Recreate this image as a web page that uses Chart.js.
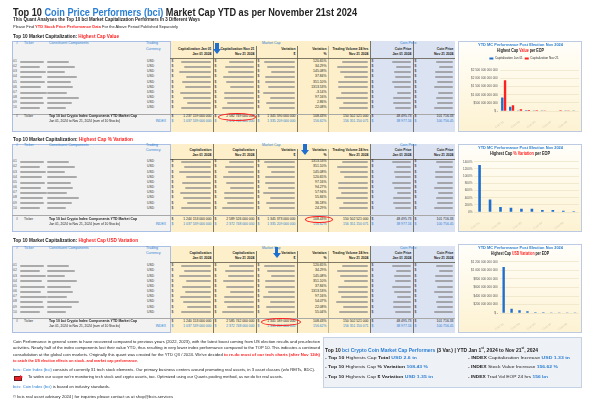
<!DOCTYPE html>
<html>
<head>
<meta charset="utf-8">
<script src="https://cdn.jsdelivr.net/npm/chart.js@4"></script>
<style>
    body { margin: 0; background: #fff; }
    #page { position: relative; width: 600px; height: 405px; overflow: hidden; font-family: "Liberation Sans", Arial, sans-serif; color: #222; }
    .a { position: absolute; white-space: nowrap; transform-origin: 0 0; }
    .blue { color: #2b7fd4; }
    .red { color: #ff1f1f; }
    .b { font-weight: bold; }
</style>
</head>
<body>
<div id="page"></div>
<script>
// ---- data (coin names are blurred in the original) ----
const coins = ['Coin 01', 'Coin 02', 'Coin 03', 'Coin 04', 'Coin 05', 'Coin 06', 'Coin 07', 'Coin 08', 'Coin 09', 'Coin 10'];
const capJan = [830, 270, 44, 48, 12, 3, 15, 24, 12, 13];        // USD bn, Jan 01 2024
const capNov = [1880, 355, 108, 66, 54, 42, 15, 47, 12, 16];     // USD bn, Nov 21 2024
const capPctVar = [1313.53, 351.10, 145.08, 120.65, 97.16, 94.27, 57.94, 55.84, 36.18, 24.29]; // %
const capUsdVar = [1080, 100, 65, 42, 22, 22, 4, 3, 2, 1];     // USD bn

const capTicks = [0, 500, 1000, 1500, 2000, 2500];
const pctTicks = [0, 200, 400, 600, 800, 1000, 1200, 1400];
const usdTicks = [0, 200, 400, 600, 800, 1000, 1200];

const pctS1 = ['120.65%', '34.29%', '145.08%', '37.84%', '351.10%', '1313.53%', '-3.14%', '97.16%', '2.86%', '22.08%'];
const pctS2 = ['1313.53%', '351.10%', '145.08%', '120.65%', '97.16%', '94.27%', '57.94%', '55.84%', '36.18%', '24.29%'];
const pctS3 = ['120.65%', '34.29%', '145.08%', '351.10%', '37.84%', '1313.53%', '97.16%', '54.07%', '22.08%', '55.04%'];

const totS1 = ['1 237 159 000 000', '2 582 749 000 000', '1 345 590 000 000', '108.43%', '150 502 521 000', '48 495.73', '101 716.33'];
const idxS1 = ['1 037 539 000 000', '2 372 748 000 000', '1 335 209 000 000', '156.62%', '156 351 150 071', '38 977.16', '100 756.45'];
const totS2 = ['1 244 153 000 000', '2 589 526 000 000', '1 345 373 000 000', '108.43%', '150 502 521 000', '48 495.73', '101 716.33'];
const totS3 = ['1 240 153 000 000', '2 585 742 000 000', '1 345 589 000 000', '108.43%', '150 502 521 000', '48 495.73', '101 716.33'];

const page = document.getElementById('page');

function txt(x, yc, html, o = {}) {
    const size = o.size || 3.6;
    const d = document.createElement('div');
    d.className = 'a';
    d.style.fontSize = size + 'px';
    d.style.lineHeight = size + 'px';
    d.style.top = (yc - size / 2) + 'px';
    if (o.bold) d.style.fontWeight = 'bold';
    if (o.color) d.style.color = o.color;
    d.innerHTML = html;
    page.appendChild(d);
    let w = d.getBoundingClientRect().width;
    if (o.w) { d.style.transform = 'scaleX(' + (o.w / w) + ')'; w = o.w; }
    const al = o.align || 'left';
    d.style.left = (al === 'left' ? x : al === 'right' ? x - w : x - w / 2) + 'px';
    return d;
}

function rect(x, y, w, h, css) {
    const d = document.createElement('div');
    d.className = 'a';
    d.style.cssText += `left:${x}px;top:${y}px;width:${w}px;height:${h}px;` + (css || '');
    page.appendChild(d);
    return d;
}

function smear(x, yc, w) {
    rect(x, yc - 1, w, 2, 'background:#8c8c8c;filter:blur(0.7px);border-radius:1px;opacity:0.7;');
}

function arrow(xc, y) {
    rect(xc - 1.6, y, 3.2, 6, 'background:#1f6fd0;');
    rect(xc - 4, y + 6, 0, 0, 'border-left:4px solid transparent;border-right:4px solid transparent;border-top:5px solid #1f6fd0;');
}

function ring(x, y, w, h) {
    rect(x, y, w, h, 'border:1px solid #ff1f1f;border-radius:50%;box-sizing:border-box;');
}

// ---- titles ----
txt(13, 12.5, 'Top 10 <span class="blue">Coin Price Performers (bci)</span> Market Cap YTD as per November 21st 2024', { size: 10, bold: true, w: 344 });
txt(13, 20.7, 'This Quant Analyses the Top 10 bci Market Capitalization Performers In 3 Different Ways', { size: 4.5, bold: true, w: 187 });
txt(13, 26.7, 'Please Find <span class="red b">YTD Stock Price Performance Data</span> For the Above Period Published Separately', { size: 4, w: 165 });

// ---- tables ----
const C = { p0: 170, p1: 213, p2: 256, p3: 297, p4: 328, p5: 370, q1: 413, q2: 455 };
const tickW = [24, 20, 26, 22, 25, 21, 27, 23, 24, 20];
const nameW = [22, 28, 18, 30, 24, 26, 20, 32, 25, 19];
const valW = [30, 27, 32, 25, 29, 26, 31, 28, 24, 30];

const sections = [
    { top: 41, bottom: 131.5, headY: 37.7, headW: 106, head: 'Highest Cap Value', g: 43.7, l1: 49.3, l2: 54.3, hl: 58.3, row0: 61.7, sep: 113.5, tot: [117, 122],
      capHdr: ['Capitalization Jan 01', 'Capitalization Nov 21'], pct: pctS1, t1: totS1, t2: idxS1, arrowX: 217, arrowY: 42.5, ring: [218, 113, 38, 8] },
    { top: 143.5, bottom: 231.7, headY: 140, headW: 120, head: 'Highest Cap % Variation', g: 146, l1: 150.7, l2: 156, hl: 159, row0: 162, sep: 215, tot: [219.3, 224.3],
      capHdr: ['Capitalization', 'Capitalization'], pct: pctS2, t1: totS2, t2: idxS1, arrowX: 305, arrowY: 144, ring: [304.5, 215.8, 28, 7.5] },
    { top: 246, bottom: 332.7, headY: 241, headW: 125, head: 'Highest Cap USD Variation', g: 248.5, l1: 253.3, l2: 259, hl: 262, row0: 266, sep: 318, tot: [321.7, 326.7],
      capHdr: ['Capitalization', 'Capitalization'], pct: pctS3, t1: totS3, t2: idxS1, arrowX: 276.5, arrowY: 246.5, ring: [261, 317.7, 40, 8] }
];

sections.forEach(s => {
    const h = s.bottom - s.top;
    txt(13, s.headY, 'Top 10 Market Capitalization: <span class="red">' + s.head + '</span>', { size: 4.8, bold: true, w: s.headW });

    // panels
    rect(12, s.top, 443, h, 'border:1px solid #a9bfe3;box-sizing:border-box;background:#f2f2f2;');
    rect(C.p0, s.top, C.p5 - C.p0, h, 'background:#fcefc9;border-left:1px solid #a9bfe3;');
    rect(C.p5, s.top, C.q2 - C.p5, h, 'background:#dbe2f2;');
    [C.p1, C.p2, C.p3, C.p5, C.q1].forEach(x => {
        const off = (x === C.p2 || x === C.p3) ? 5 : 0;
        rect(x, s.top + off, 0.6, h - off, 'background:#5f5a4a;opacity:0.8;');
    });
    rect(C.p4, s.top + 5, 0.5, h - 5, 'background:#c2b694;');
    rect(C.p0, s.hl, C.q2 - C.p0, 0.6, 'background:#5f5a4a;opacity:0.8;');
    rect(12, s.sep, 443, 0.7, 'background:#a8a8a8;');

    // header labels
    const hb = { color: '#2b7fd4', size: 3.6 };
    txt(16, s.g, '#', hb);
    txt(24, s.g, 'Ticker', hb);
    txt(49, s.g, 'Constituent Components', hb);
    txt(146, s.g, 'Trading', hb);
    txt(146, s.l1, 'Currency', hb);
    txt(262, s.g, 'Market Cap', hb);
    txt(400, s.g, 'Coin Price', hb);
    const hk = { align: 'right', bold: true, size: 3.4 };
    txt(C.p1 - 1.5, s.l1, s.capHdr[0], hk); txt(C.p1 - 1.5, s.l2, 'Jan 01 2024', hk);
    txt(C.p2 - 1.5, s.l1, s.capHdr[1], hk); txt(C.p2 - 1.5, s.l2, 'Nov 21 2024', hk);
    txt(C.p3 - 1.5, s.l1, 'Variation', hk); txt(C.p3 - 1.5, s.l2, '$', hk);
    txt(C.p4 - 1.5, s.l1, 'Variation', hk); txt(C.p4 - 1.5, s.l2, '%', hk);
    txt(C.p5 - 1.5, s.l1, 'Trading Volume 24 hrs', hk); txt(C.p5 - 1.5, s.l2, 'Nov 21 2024', hk);
    txt(C.q1 - 1.5, s.l1, 'Coin Price', hk); txt(C.q1 - 1.5, s.l2, 'Jan 01 2024', hk);
    txt(C.q2 - 1.5, s.l1, 'Coin Price', hk); txt(C.q2 - 1.5, s.l2, 'Nov 21 2024', hk);

    // rows
    s.pct.forEach((p, i) => {
        const y = s.row0 + i * 5.15;
        txt(13, y, String(i + 1).padStart(2, '0'), { size: 3.4, color: '#555' });
        smear(20, y, tickW[i]);
        smear(47, y, nameW[i]);
        txt(147, y, 'USD', { size: 3.4, color: '#333' });
        [[C.p0, C.p1], [C.p1, C.p2], [C.p2, C.p3]].forEach(([a, b], k) => {
            txt(a + 1.5, y, '$', { size: 3.4 });
            const w = valW[(i + k * 3) % 10];
            smear(b - 2 - w, y, w);
        });
        txt(C.p4 - 1.5, y, p, { size: 3.4, align: 'right' });
        smear(C.p5 - 2 - valW[(i + 5) % 10], y, valW[(i + 5) % 10]);
        txt(C.p5 + 1.5, y, '$', { size: 3.4 });
        smear(C.q1 - 2 - valW[(i + 2) % 10] * 0.6, y, valW[(i + 2) % 10] * 0.6);
        txt(C.q1 + 1.5, y, '$', { size: 3.4 });
        smear(C.q2 - 2 - valW[(i + 7) % 10] * 0.6, y, valW[(i + 7) % 10] * 0.6);
    });

    // totals
    const [y1, y2] = s.tot;
    txt(16, y1, '#', { size: 3.4 });
    txt(24, y1, 'Ticker', { size: 3.4 });
    txt(49, y1, 'Top 10 bci Crypto Index Components YTD Market Cap', { size: 3.4, bold: true, w: 88 });
    txt(49, y2, 'Jan 01, 2024 to Nov 21, 2024 (sum of 10 Stocks)', { size: 3.2, w: 71 });
    txt(166, y2, 'INDEX', { size: 3.4, color: '#2b7fd4', align: 'right' });
    [[s.t1, y1, '#222'], [s.t2, y2, '#2b7fd4']].forEach(([vals, y, col]) => {
        const o = { size: 3.4, color: col, align: 'right' };
        txt(C.p0 + 1.5, y, '$', { size: 3.4, color: col });
        txt(C.p1 - 1.5, y, vals[0], o);
        txt(C.p1 + 1.5, y, '$', { size: 3.4, color: col });
        txt(C.p2 - 1.5, y, vals[1], o);
        txt(C.p2 + 1.5, y, '$', { size: 3.4, color: col });
        txt(C.p3 - 1.5, y, vals[2], o);
        txt(C.p4 - 1.5, y, vals[3], o);
        txt(C.p5 - 1.5, y, vals[4], o);
        txt(C.p5 + 1.5, y, '$', { size: 3.4, color: col });
        txt(C.q1 - 1.5, y, vals[5], o);
        txt(C.q1 + 1.5, y, '$', { size: 3.4, color: col });
        txt(C.q2 - 1.5, y, vals[6], o);
    });

    arrow(s.arrowX, s.arrowY);
    ring(...s.ring);
});

// ---- charts ----
function spaced(n) { return String(n).replace(/\B(?=(\d{3})+(?!\d))/g, ' '); }

function chartBox(top, h, sub, subW) {
    rect(458, top, 124, h, 'border:1px solid #bccbe3;box-sizing:border-box;background:linear-gradient(#fffef9,#fdf2d2);');
    txt(520, top + 4.5, 'YTD MC Performance Post Election Nov 2024', { size: 4.4, bold: true, color: '#2b7fd4', w: 85, align: 'center' });
    txt(520, top + 10.5, sub, { size: 4.6, bold: true, w: subW, align: 'center' });
    const cv = document.createElement('canvas');
    cv.width = 122; cv.height = h - 15;
    cv.className = 'a';
    cv.style.left = '459px'; cv.style.top = (top + 14) + 'px';
    page.appendChild(cv);
    return cv;
}

function opts(ticks, fmt, pad) {
    return {
        responsive: false, animation: false,
        layout: { padding: pad },
        plugins: { legend: { display: false }, tooltip: { enabled: false } },
        scales: {
            x: { grid: { display: false }, border: { display: false },
                 ticks: { font: { size: 3 }, color: '#d2c8b2', maxRotation: 35, minRotation: 35, padding: 1 } },
            y: { min: 0, max: ticks[ticks.length - 1], afterBuildTicks: ax => { ax.ticks = ticks.map(v => ({ value: v })); },
                 ticks: { font: { size: 3 }, color: '#555', padding: 2, callback: fmt },
                 grid: { color: '#eadfbf', lineWidth: 0.6, drawTicks: false }, border: { display: false } }
        }
    };
}

const o1 = opts(capTicks, v => v === 0 ? '$ -' : '$' + spaced(v * 1e9), { left: 10, right: 2, top: 0, bottom: 0 });
o1.plugins.legend = { display: true, position: 'top', labels: { font: { size: 3 }, boxWidth: 4, boxHeight: 2, padding: 2, color: '#333' } };
new Chart(chartBox(41, 90.5, 'Highest Cap <span class="red">Value</span> per EOP', 47), {
    type: 'bar',
    data: { labels: coins, datasets: [
        { label: 'Capitalization Jan 01', data: capJan, backgroundColor: '#1f6fd0', categoryPercentage: 0.7, barPercentage: 0.85 },
        { label: 'Capitalization Nov 21', data: capNov, backgroundColor: '#ff1f1f', categoryPercentage: 0.7, barPercentage: 0.85 }
    ] },
    options: o1
});

new Chart(chartBox(143.5, 88.2, 'Highest Cap <span class="red">% Variation</span> per EOP', 60), {
    type: 'bar',
    data: { labels: coins, datasets: [
        { label: 'Cap % Variation', data: capPctVar, backgroundColor: '#1f6fd0', categoryPercentage: 0.5, barPercentage: 0.5 }
    ] },
    options: opts(pctTicks, v => v + '%', { left: 2, right: 2, top: 1, bottom: 0 })
});

new Chart(chartBox(244, 89, 'Highest Cap <span class="red">USD Variation</span> per EOP', 58), {
    type: 'bar',
    data: { labels: coins, datasets: [
        { label: 'Cap USD Variation', data: capUsdVar, backgroundColor: '#1f6fd0', categoryPercentage: 0.5, barPercentage: 0.6 }
    ] },
    options: opts(usdTicks, v => v === 0 ? '$ -' : '$' + spaced(v * 1e9), { left: 10, right: 2, top: 3, bottom: 0 })
});

// ---- commentary ----
const ps = 4.3;
txt(13, 342, 'Coin Performance in general seem to have recovered compared to previous years (2022, 2023), with the latest boost coming from US election results and pre-election', { size: ps, w: 307 });
txt(13, 348.5, 'activities. Nearly half of the index components lost their value YTD, thus resulting in very lower index performance compared to the TOP 10. This indicates a continued', { size: ps, w: 307 });
txt(13, 355, 'consolidation at the global coin markets. Originally this quant was created for the YTD Q3 / 2024. We\'ve decided <span class="red b">to re-do most of our tech charts (after Nov 12th)</span>', { size: ps, w: 307 });
txt(13, 361.5, '<span class="red b">to catch the US election effects on stock- and market cap performance.</span>', { size: ps, w: 125 });
txt(13, 370, '<span class="blue">bcis: Coin Index (bci)</span> consists of currently 31 tech stock elements. Our primary business centers around promoting real assets, in 3 asset classes (w/o REITs, BDC).', { size: ps, w: 302 });
rect(14, 376, 6, 3, 'background:#e8202a;border:0.5px solid #6a1a1a;');
rect(20, 375, 0, 0, 'border-top:2.5px solid transparent;border-bottom:2.5px solid transparent;border-left:3.5px solid #e8202a;');
txt(28, 377.5, 'To widen our scope we\'re monitoring tech stock and crypto assets, too. Optimized using our Quants pooling method, as we do for real assets.', { size: ps, w: 255 });
txt(13, 387, '<span class="blue">bcis: Coin Index (bci)</span> is based on industry standards.', { size: ps, w: 97 });
txt(13, 396.7, '© bcis real asset advisory 2024 | for inquiries please contact us at shop@bcis.services', { size: ps, w: 160 });

// ---- summary box ----
rect(323, 337.3, 259, 51, 'background:#eef1f6;border:1px solid #c5d1e4;box-sizing:border-box;');
txt(325, 349.5, 'Top 10 <span class="blue">bci Crypto Coin Market Cap Performers</span> (3 Var.) | YTD Jan 1<sup style="font-size:60%">st</sup>, 2024 to Nov 21<sup style="font-size:60%">st</sup>, 2024', { size: 4.6, bold: true, w: 213 });
const sb = { size: 4.4 };
txt(325, 358, '- <b>Top 10</b> Highests Cap <b>Total</b> <b class="blue">USD 2.6 tn</b>', { ...sb, w: 92 });
txt(325, 367, '- <b>Top 10</b> Highests Cap <b>% Variation</b> <b class="blue">108.43 %</b>', { ...sb, w: 103 });
txt(325, 377, '- <b>Top 10</b> Highests Cap <b>$ Variation</b> <b class="blue">USD 1.35 tn</b>', { ...sb, w: 108 });
txt(468, 358, '- <b>INDEX</b> Capitalization Increase <b class="blue">USD 1.33 tn</b>', { ...sb, w: 102 });
txt(468, 367, '- <b>INDEX</b> Stock Value Increase <b class="blue">156.62 %</b>', { ...sb, w: 90 });
txt(468, 377, '- <b>INDEX</b> Trad Vol EOP 24 hrs <b class="blue">156 bn</b>', { ...sb, w: 80 });
</script>
</body>
</html>
